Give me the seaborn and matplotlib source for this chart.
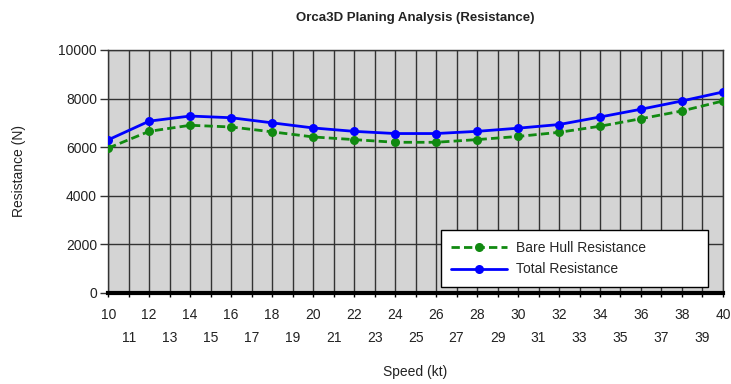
import pandas as pd
import seaborn as sns
import matplotlib.pyplot as plt

speed = [10, 12, 14, 16, 18, 20, 22, 24, 26, 28, 30, 32, 34, 36, 38, 40]
bare_hull = [5960, 6650, 6900, 6830, 6630, 6420, 6310, 6200, 6200, 6310, 6440, 6610, 6860, 7170, 7490, 7900]
total = [6300, 7070, 7280, 7210, 7000, 6790, 6650, 6560, 6560, 6650, 6780, 6930, 7240, 7560, 7900, 8270]
series_names = ['Bare Hull Resistance', 'Total Resistance']
even_ticks = list(range(10, 41, 2))
odd_ticks = list(range(11, 40, 2))
y_ticks = [0, 2000, 4000, 6000, 8000, 10000]

df = pd.DataFrame({
    'Speed': speed * 2,
    'Resistance': bare_hull + total,
    'Series': [series_names[0]] * len(speed) + [series_names[1]] * len(speed),
})

sns.set_style('white')
plt.rcParams['font.family'] = ['Liberation Sans', 'DejaVu Sans']

fig = plt.figure(figsize=(7.31, 3.84), dpi=100)
ax = fig.add_axes([0.148, 0.237, 0.841, 0.633])
ax.set_facecolor('#d4d4d4')

sns.lineplot(data=df, x='Speed', y='Resistance', hue='Series', style='Series',
             palette={series_names[0]: '#118a11', series_names[1]: '#0000ff'},
             dashes={series_names[0]: (3, 1.5), series_names[1]: ''},
             markers={series_names[0]: 'o', series_names[1]: 'o'},
             markersize=6.5, markeredgewidth=0, linewidth=2, ax=ax, zorder=3)

ax.set_xlim(10, 40)
ax.set_ylim(0, 10000)
ax.set_yticks(y_ticks)
ax.set_yticklabels([str(v) for v in y_ticks], fontsize=10, color='#222222')
# staggered x labels: even on first row, odd on second
ax.set_xticks(even_ticks)
ax.set_xticklabels([str(v) for v in even_ticks], fontsize=10, color='#222222')
ax.set_xticks(odd_ticks, minor=True)
ax.set_xticklabels([str(v) for v in odd_ticks], minor=True, fontsize=10, color='#222222')
ax.grid(True, which='both', color='#333333', linewidth=1)
ax.set_axisbelow(True)
ax.tick_params(axis='x', which='both', bottom=True, length=3, width=1, color='black', direction='out')
ax.tick_params(axis='x', which='major', pad=7.5)
ax.tick_params(axis='x', which='minor', pad=24.5)
ax.tick_params(axis='y', left=True, length=6, width=1, color='#333333', direction='out', pad=2)

for side in ['top', 'right', 'left']:
    ax.spines[side].set_color('#333333')
    ax.spines[side].set_linewidth(1)
ax.spines['bottom'].set_color('black')
ax.spines['bottom'].set_linewidth(3)

ax.set_xlabel('Speed (kt)', fontsize=10, color='#222222')
ax.xaxis.set_label_coords(0.5, -0.298)
ax.set_ylabel('Resistance (N)', fontsize=10, color='#222222')
ax.yaxis.set_label_coords(-0.133, 0.5)
fig.text(0.568, 1 - 18 / 384, 'Orca3D Planing Analysis (Resistance)', fontsize=9.5,
         weight='bold', ha='center', va='center', color='#222222')

leg = ax.legend(loc='lower left', bbox_to_anchor=(0.541, 0.025, 0.435, 0.247), mode='expand',
                borderaxespad=0, fontsize=10, frameon=True, fancybox=False,
                edgecolor='black', framealpha=1, handlelength=4, handletextpad=0.7,
                borderpad=0.75, labelspacing=0.55)
leg.get_frame().set_linewidth(1)

fig.savefig('out.png', dpi=100)
